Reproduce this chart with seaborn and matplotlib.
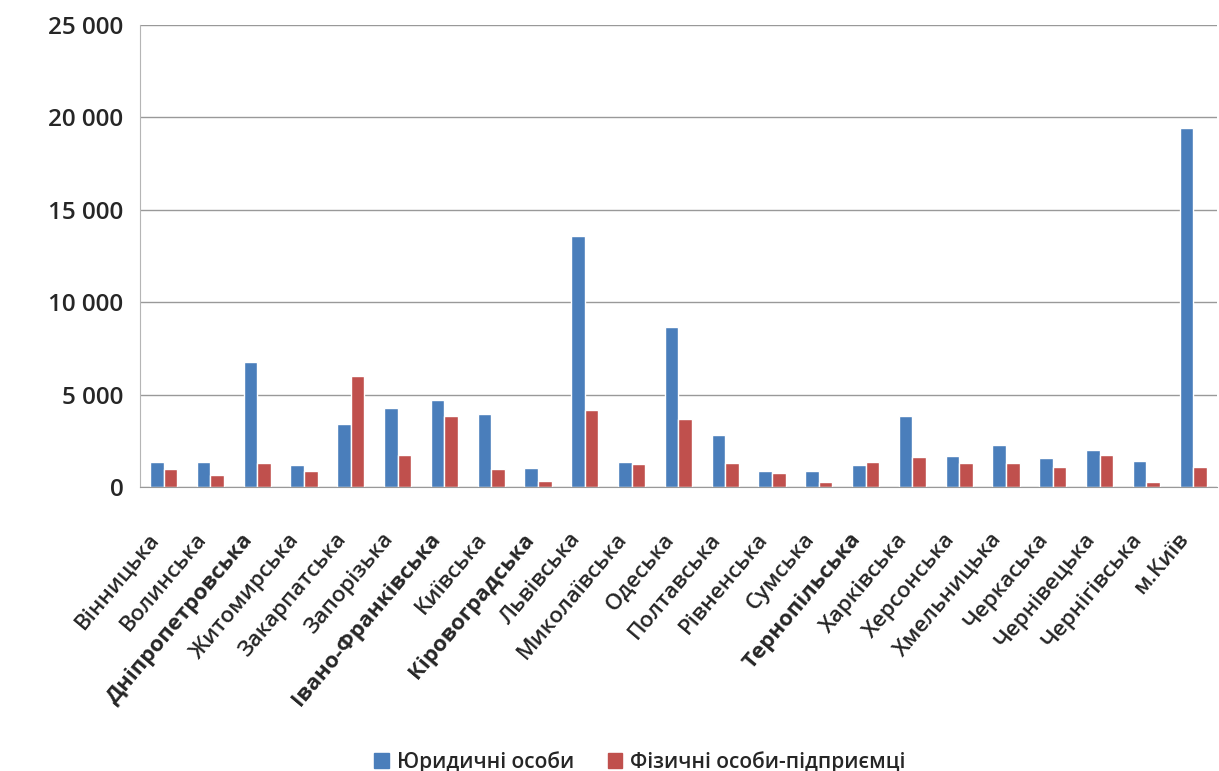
import matplotlib
matplotlib.use('Agg')
import matplotlib.pyplot as plt
import matplotlib.ticker as mticker
import matplotlib.transforms as mtransforms
from matplotlib.patches import Patch
import numpy as np
import pandas as pd
import seaborn as sns

# Data
regions = ['Вінницька', 'Волинська', 'Дніпропетровська', 'Житомирська', 'Закарпатська',
           'Запорізька', 'Івано-Франківська', 'Київська', 'Кіровоградська', 'Львівська',
           'Миколаївська', 'Одеська', 'Полтавська', 'Рівненська', 'Сумська',
           'Тернопільська', 'Харківська', 'Херсонська', 'Хмельницька', 'Черкаська',
           'Чернівецька', 'Чернігівська', 'м.Київ']
legal = [1360, 1360, 6760, 1230, 3440, 4260, 4710, 3950, 1030, 13570,
         1390, 8660, 2810, 900, 900, 1210, 3840, 1710, 2270, 1590,
         2020, 1410, 19400]
individual = [1000, 690, 1300, 870, 6030, 1760, 3860, 1000, 360, 4190,
              1260, 3700, 1320, 760, 270, 1350, 1660, 1320, 1320, 1080,
              1730, 270, 1080]
series_names = ['Юридичні особи', 'Фізичні особи-підприємці']
bold_labels = ['Дніпропетровська', 'Івано-Франківська', 'Кіровоградська', 'Тернопільська']

df = pd.DataFrame({
    'region': regions * 2,
    'value': legal + individual,
    'series': [series_names[0]] * len(regions) + [series_names[1]] * len(regions),
})

colors = ['#4A7EBB', '#C0504D']

sns.set_style('white')
plt.rcParams['font.family'] = ['Open Sans', 'DejaVu Sans']

fig = plt.figure(figsize=(12.19, 7.71), dpi=100)
ax = fig.add_axes([0.115, 0.368, 0.883, 0.600])

sns.barplot(data=df, x='region', y='value', hue='series', palette=colors,
            width=0.58, saturation=1, ax=ax, legend=False)

ax.set_xlim(-0.5, len(regions) - 0.5)
ax.set_ylim(0, 25000)
ax.yaxis.set_major_locator(mticker.MultipleLocator(5000))
ax.yaxis.set_major_formatter(mticker.FuncFormatter(lambda v, p: f'{int(v):,}'.replace(',', ' ')))
ax.grid(axis='y', color='#999999', linewidth=1)
ax.set_axisbelow(True)

for side in ['top', 'right']:
    ax.spines[side].set_visible(False)
ax.spines['left'].set_color('#b5b5b5')
ax.spines['bottom'].set_color('#999999')

ax.set_xlabel('')
ax.set_ylabel('')
ax.tick_params(axis='y', length=5, color='#999999', labelsize=17.5, pad=7)
for lbl in ax.get_yticklabels():
    lbl.set_fontweight('semibold')
ax.tick_params(axis='x', which='major', length=0, pad=30)
ax.set_xticks(np.arange(-0.5, len(regions)), minor=True)
ax.tick_params(axis='x', which='minor', length=7, color='#999999')

ax.set_xticks(range(len(regions)))
ax.set_xticklabels(regions, rotation=50, ha='right', rotation_mode='anchor', fontsize=16)
shift = mtransforms.ScaledTranslation(-16 / 100, 0, fig.dpi_scale_trans)
for lbl in ax.get_xticklabels():
    lbl.set_fontweight('bold' if lbl.get_text() in bold_labels else 'semibold')
    lbl.set_transform(lbl.get_transform() + shift)

handles = [Patch(color=c, label=n) for c, n in zip(colors, series_names)]
fig.legend(handles=handles, loc='lower center', bbox_to_anchor=(0.525, -0.027), ncol=2,
           frameon=False, prop={'size': 15, 'weight': 'semibold'},
           handlelength=0.7, handleheight=0.7, handletextpad=0.4, columnspacing=1.6)

fig.savefig('out.png', dpi=100)
